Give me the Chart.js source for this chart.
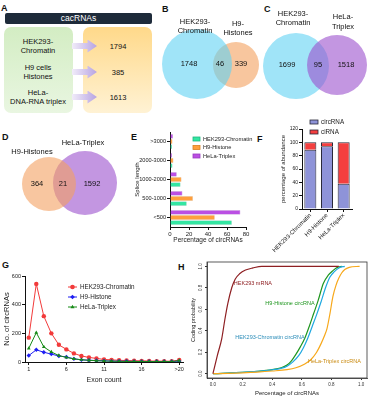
<!DOCTYPE html>
<html>
<head>
<meta charset="utf-8">
<script src="https://cdn.jsdelivr.net/npm/chart.js@4.4.1/dist/chart.umd.min.js"></script>
<style>
  body { margin: 0; background: #fff; }
  #fig { position: relative; width: 373px; height: 400px; overflow: hidden; font-family: "Liberation Sans", Arial, sans-serif; color: #111; }
  #fig canvas { position: absolute; }
  .tag { position: absolute; font-weight: bold; font-size: 9px; line-height: 9px; }
  .box { position: absolute; border-radius: 7px; }
  .txt { position: absolute; font-size: 7.5px; line-height: 9px; text-align: center; white-space: pre; transform: translate(-50%, -50%); }
  .arrow { position: absolute; width: 25px; height: 13px; clip-path: polygon(0 27%, 62% 27%, 62% 0, 100% 50%, 62% 100%, 62% 73%, 0 73%); background: linear-gradient(90deg, #f1ecf9, #b7a3e2); }
</style>
</head>
<body>
<div id="fig"></div>
<script>
// panel A
const cacSources = ['HEK293-\nChromatin', 'H9 cells\nHistones', 'HeLa-\nDNA-RNA triplex'];
const cacCounts = [1794, 385, 1613];

// venn panels: [left only, shared, right only]
const vennHekH9 = [1748, 46, 339];
const vennHekHela = [1699, 95, 1518];
const vennH9Hela = [364, 21, 1592];

// panel E, splice length (% of circRNAs)
const spliceBins = ['>3000', '2000-3000', '1000-2000', '500-1000', '<500'];
const spliceHek = [2, 2.5, 11, 17.5, 65];
const spliceH9 = [2.5, 3.5, 12, 24, 47];
const spliceHela = [3, 2, 7, 13, 74];

// panel F, abundance (%)
const cellLines = ['HEK293-Chromatin', 'H9-Histone', 'HeLa-Triplex'];
const circShare = [89, 94, 38];
const ciShare = [11, 6, 62];

// panel G, exon count
const exonLabels = ['1','2','3','4','5','6','7','8','9','10','11','12','13','14','15','16','17','18','19','20','>20'];
const exonHek = [170, 545, 320, 200, 120, 88, 60, 42, 32, 25, 18, 15, 12, 10, 9, 8, 7, 6, 6, 5, 14];
const exonH9 = [45, 85, 68, 55, 42, 35, 22, 15, 12, 10, 8, 6, 5, 5, 4, 4, 3, 3, 3, 3, 6];
const exonHela = [95, 205, 105, 70, 45, 32, 22, 16, 12, 9, 7, 6, 5, 4, 4, 3, 3, 3, 3, 3, 10];

// panel H, coding probability curves
const mrnaX = [0, 0.03, 0.06, 0.08, 0.1, 0.127, 0.15, 0.18, 0.22, 0.27, 0.33, 0.85];
const mrnaY = [0, 0.17, 0.33, 0.5, 0.65, 0.8, 0.88, 0.93, 0.965, 0.985, 1, 1];
const h9X = [0, 0.1, 0.2, 0.3, 0.4, 0.46, 0.5, 0.53, 0.56, 0.59, 0.62, 0.65, 0.68, 0.71, 0.745, 0.78, 0.81, 0.84, 0.87];
const h9Y = [0, 0.005, 0.012, 0.022, 0.038, 0.055, 0.08, 0.12, 0.18, 0.25, 0.33, 0.44, 0.56, 0.68, 0.84, 0.92, 0.96, 0.99, 1];
const hekX = [0, 0.1, 0.2, 0.3, 0.4, 0.46, 0.5, 0.54, 0.58, 0.61, 0.64, 0.67, 0.7, 0.73, 0.76, 0.79, 0.82, 0.85, 0.89];
const hekY = [0, 0.005, 0.012, 0.022, 0.036, 0.05, 0.07, 0.11, 0.17, 0.24, 0.33, 0.44, 0.55, 0.67, 0.8, 0.9, 0.95, 0.985, 1];
const helaX = [0, 0.1, 0.2, 0.3, 0.4, 0.5, 0.56, 0.62, 0.66, 0.7, 0.73, 0.755, 0.77, 0.79, 0.81, 0.83, 0.85, 0.87, 0.89, 0.92, 0.99];
const helaY = [0, 0.003, 0.008, 0.015, 0.025, 0.038, 0.055, 0.09, 0.13, 0.2, 0.28, 0.36, 0.42, 0.56, 0.72, 0.82, 0.89, 0.94, 0.97, 0.99, 1];

const FONT = '"Liberation Sans", Arial, Helvetica, sans-serif';
Chart.defaults.font.family = FONT;
Chart.defaults.color = '#222';
Chart.defaults.animation = false;
Chart.defaults.responsive = false;
Chart.defaults.events = [];
Chart.defaults.plugins.legend.display = false;
Chart.defaults.plugins.tooltip.enabled = false;

const fig = document.getElementById('fig');

function addCanvas(left, top, w, h) {
    const c = document.createElement('canvas');
    c.width = w; c.height = h;
    c.style.left = left + 'px'; c.style.top = top + 'px';
    c.style.width = w + 'px'; c.style.height = h + 'px';
    fig.appendChild(c);
    return c;
}

function addDiv(cls, css, text) {
    const d = document.createElement('div');
    d.className = cls;
    Object.assign(d.style, css);
    if (text !== undefined) d.textContent = text;
    fig.appendChild(d);
    return d;
}

// text written on a chart, page coords or data coords
const notes = {
    id: 'notes',
    afterDraw(chart, args, opts) {
        const ctx = chart.ctx;
        const ox = chart.canvas.offsetLeft, oy = chart.canvas.offsetTop;
        (opts.items || []).forEach(function (it) {
            let x = it.x - ox, y = it.y - oy;
            if (it.onData) {
                x = chart.scales.x.getPixelForValue(it.x);
                y = chart.scales.y.getPixelForValue(it.y);
            }
            ctx.save();
            ctx.font = (it.size || 6) + 'px ' + FONT;
            ctx.fillStyle = it.color || '#111';
            ctx.textAlign = it.align || 'center';
            ctx.textBaseline = 'middle';
            ctx.translate(x, y);
            if (it.rotate) ctx.rotate(it.rotate * Math.PI / 180);
            ctx.fillText(it.text, 0, 0);
            ctx.restore();
        });
    }
};

// small legends placed by hand
const keys = {
    id: 'keys',
    afterDraw(chart, args, opts) {
        const ctx = chart.ctx;
        const ox = chart.canvas.offsetLeft, oy = chart.canvas.offsetTop;
        (opts.items || []).forEach(function (k) {
            const x = k.x - ox, y = k.y - oy;
            ctx.save();
            if (k.kind === 'line') {
                ctx.strokeStyle = k.color; ctx.lineWidth = 1;
                ctx.beginPath(); ctx.moveTo(x, y); ctx.lineTo(x + k.w, y); ctx.stroke();
                ctx.fillStyle = k.color;
                Chart.helpers.drawPoint(ctx, { pointStyle: k.point, radius: 2.3, rotation: 0, borderWidth: 0 }, x + k.w / 2, y);
            } else {
                ctx.fillStyle = k.color; ctx.strokeStyle = k.edge; ctx.lineWidth = 0.8;
                ctx.fillRect(x, y - k.h / 2, k.w, k.h);
                ctx.strokeRect(x, y - k.h / 2, k.w, k.h);
            }
            ctx.font = (k.size || 6) + 'px ' + FONT;
            ctx.fillStyle = '#222';
            ctx.textAlign = 'left';
            ctx.textBaseline = 'middle';
            ctx.fillText(k.label, x + k.w + 3, y);
            ctx.restore();
        });
    }
};

const frame = {
    id: 'frame',
    afterDraw(chart, args, opts) {
        if (!opts.on) return;
        const a = chart.chartArea, ctx = chart.ctx;
        ctx.save();
        ctx.strokeStyle = '#333'; ctx.lineWidth = 0.8;
        ctx.strokeRect(a.left, a.top, a.right - a.left, a.bottom - a.top);
        ctx.restore();
    }
};

// R style vertical labels on the y axis
const sideTicks = {
    id: 'sideTicks',
    afterDraw(chart, args, opts) {
        if (!opts.on) return;
        const ctx = chart.ctx, sc = chart.scales.y;
        ctx.save();
        ctx.font = opts.size + 'px ' + FONT;
        ctx.fillStyle = '#333';
        ctx.textAlign = 'center';
        ctx.textBaseline = 'bottom';
        sc.ticks.forEach(function (t) {
            ctx.save();
            ctx.translate(sc.right - opts.gap, sc.getPixelForValue(t.value));
            ctx.rotate(-Math.PI / 2);
            ctx.fillText(t.value.toFixed(1), 0, 0);
            ctx.restore();
        });
        ctx.restore();
    }
};

Chart.register(notes, keys, frame, sideTicks);

function fixW(w) {
    return function (axis) { axis.width = w; axis.paddingTop = 0; axis.paddingBottom = 0; };
}
function fixH(h) {
    return function (axis) { axis.height = h; axis.paddingLeft = 0; axis.paddingRight = 0; };
}

// ---------- panel letters
[['A', 1, 4], ['B', 162, 5], ['C', 264, 5], ['D', 2, 133], ['E', 131, 133], ['F', 257, 135], ['G', 2, 261], ['H', 178, 263]]
    .forEach(function (t) { addDiv('tag', { left: t[1] + 'px', top: t[2] + 'px' }, t[0]); });

// ---------- panel A
addDiv('box', { left: '5px', top: '13px', width: '147px', height: '11px', borderRadius: '2px', background: '#1e2b3a',
    color: '#fff', fontSize: '8.5px', lineHeight: '11px', textAlign: 'center' }, 'cacRNAs');
addDiv('box', { left: '4px', top: '27px', width: '69px', height: '86px', background: 'linear-gradient(#d3edc3, #e9f6e1)' });
addDiv('box', { left: '83px', top: '27px', width: '69px', height: '86px', background: 'linear-gradient(#ffd98a, #fff2d4)' });
const rowsY = [46, 72, 97];
cacSources.forEach(function (s, i) {
    addDiv('txt', { left: '38px', top: rowsY[i] + 'px' }, s);
    addDiv('arrow', { left: '72px', top: (rowsY[i] - 6.5) + 'px' });
    addDiv('txt', { left: '118px', top: rowsY[i] + 'px' }, String(cacCounts[i]));
});

// ---------- venn panels
// chart.js paints dataset 0 last, so the see-through circle goes first
function drawVenn(box, circles, counts, countPos, titles) {
    const cv = addCanvas(box.left, box.top, box.w, box.h);
    const items = counts.map(function (n, i) {
        return { text: String(n), x: countPos[i][0], y: countPos[i][1], size: 7.5 };
    });
    titles.forEach(function (t) { items.push({ text: t[0], x: t[1], y: t[2], size: 7.5 }); });
    new Chart(cv, {
        type: 'bubble',
        data: {
            datasets: circles.map(function (c) {
                return { data: [{ x: c.x - box.left, y: c.y - box.top, r: c.r }], backgroundColor: c.color, borderWidth: 0, clip: false };
            })
        },
        options: {
            layout: { padding: 0, autoPadding: false },
            scales: {
                x: { type: 'linear', display: false, min: 0, max: box.w },
                y: { type: 'linear', display: false, min: 0, max: box.h, reverse: true }
            },
            plugins: { notes: { items: items } }
        }
    });
}

drawVenn({ left: 155, top: 2, w: 110, h: 108 },
    [{ x: 197, y: 64, r: 35, color: 'rgba(97,210,243,0.6)' }, { x: 236, y: 65, r: 23, color: '#f8c69e' }],
    vennHekH9, [[189, 64], [220, 64], [241, 64]],
    [['HEK293-', 195, 22], ['Chromatin', 195, 31], ['H9-', 238, 24], ['Histones', 238, 33]]);

drawVenn({ left: 258, top: 2, w: 115, h: 108 },
    [{ x: 337, y: 65, r: 30, color: 'rgba(155,80,205,0.6)' }, { x: 296, y: 66, r: 33, color: '#a0e4f8' }],
    vennHekHela, [[287, 65], [318, 65], [346, 65]],
    [['HEK293-', 293, 14], ['Chromatin', 293, 23], ['HeLa-', 343, 17], ['Triplex', 343, 27]]);

drawVenn({ left: 0, top: 135, w: 140, h: 95 },
    [{ x: 49, y: 184, r: 27, color: 'rgba(243,160,97,0.6)' }, { x: 85, y: 183, r: 32, color: '#c396e1' }],
    vennH9Hela, [[37, 184], [63, 184], [92, 184]],
    [['H9-Histones', 32, 152], ['HeLa-Triplex', 83, 143]]);

// ---------- panel E
new Chart(addCanvas(130, 128, 130, 122), {
    type: 'bar',
    data: {
        labels: spliceBins,
        datasets: [
            { label: 'HeLa-Triplex', data: spliceHela, backgroundColor: '#bb4fe3', borderColor: '#9a3cc0', borderWidth: 0.5 },
            { label: 'H9-Histone', data: spliceH9, backgroundColor: '#ff9f3c', borderColor: '#d97f20', borderWidth: 0.5 },
            { label: 'HEK293-Chromatin', data: spliceHek, backgroundColor: '#33e6a2', borderColor: '#20b880', borderWidth: 0.5 }
        ]
    },
    options: {
        indexAxis: 'y',
        layout: { padding: { top: 4, right: 14 } },
        datasets: { bar: { categoryPercentage: 0.8, barPercentage: 0.85 } },
        scales: {
            x: {
                min: 0, max: 80,
                ticks: { stepSize: 20, font: { size: 6 }, padding: 1, color: '#222' },
                grid: { drawOnChartArea: false, tickLength: 3, color: '#111' },
                border: { color: '#111', width: 1 },
                title: { display: true, text: 'Percentage of circRNAs', font: { size: 6.5 }, padding: { top: 0, bottom: 6 }, color: '#222' },
                afterFit: fixH(23)
            },
            y: {
                ticks: { font: { size: 5.6 }, padding: 1, color: '#222' },
                grid: { drawOnChartArea: false, tickLength: 3, color: '#111', offset: false },
                border: { color: '#111', width: 1 },
                title: { display: true, text: 'Splice length', font: { size: 6 }, padding: { top: 3.5, bottom: 0 }, color: '#222' },
                afterFit: fixW(40)
            }
        },
        plugins: {
            keys: {
                items: [
                    { x: 193, y: 139, w: 7, h: 4, color: '#33e6a2', edge: '#20b880', label: 'HEK293-Chromatin', size: 5.7 },
                    { x: 193, y: 147.5, w: 7, h: 4, color: '#ff9f3c', edge: '#d97f20', label: 'H9-Histone', size: 5.7 },
                    { x: 193, y: 156, w: 7, h: 4, color: '#bb4fe3', edge: '#9a3cc0', label: 'HeLa-Triplex', size: 5.7 }
                ]
            }
        }
    }
});

// ---------- panel F
new Chart(addCanvas(262, 116, 111, 142), {
    type: 'bar',
    data: {
        labels: cellLines,
        datasets: [
            { label: 'circRNA', data: circShare, backgroundColor: '#8e93d8', borderColor: '#2a2a3a', borderWidth: 1 },
            { label: 'ciRNA', data: ciShare, backgroundColor: '#f43f3f', borderColor: '#2a2a3a', borderWidth: 1 }
        ]
    },
    options: {
        layout: { padding: { top: 13, right: 21 } },
        datasets: { bar: { categoryPercentage: 0.72, barPercentage: 1 } },
        scales: {
            x: {
                stacked: true,
                ticks: { font: { size: 6 }, minRotation: 45, maxRotation: 45, padding: 0, color: '#222' },
                grid: { drawOnChartArea: false, tickLength: 3, color: '#111', offset: false },
                border: { color: '#111', width: 1 },
                afterFit: fixH(49)
            },
            y: {
                stacked: true, min: 0, max: 120,
                ticks: { stepSize: 20, font: { size: 5 }, padding: 1, color: '#222' },
                grid: { drawOnChartArea: false, tickLength: 3, color: '#111' },
                border: { color: '#111', width: 1 },
                title: { display: true, text: 'percentage of abundance', font: { size: 6 }, padding: { top: 17.4, bottom: 0 }, color: '#222' },
                afterFit: fixW(40)
            }
        },
        plugins: {
            keys: {
                items: [
                    { x: 310, y: 122, w: 8, h: 4, color: '#8e93d8', edge: '#2a2a3a', label: 'circRNA', size: 6.3 },
                    { x: 310, y: 132, w: 8, h: 4, color: '#f43f3f', edge: '#2a2a3a', label: 'ciRNA', size: 6.3 }
                ]
            }
        }
    }
});

// ---------- panel G
const gShown = ['1', '6', '11', '16', '>20'];
new Chart(addCanvas(0, 268, 190, 132), {
    type: 'line',
    data: {
        labels: exonLabels,
        datasets: [
            { label: 'HeLa-Triplex', data: exonHela, borderColor: '#168a16', backgroundColor: '#168a16', pointStyle: 'triangle' },
            { label: 'H9-Histone', data: exonH9, borderColor: '#1f1ff2', backgroundColor: '#1f1ff2', pointStyle: 'rectRot' },
            { label: 'HEK293-Chromatin', data: exonHek, borderColor: '#f23a3a', backgroundColor: '#f23a3a', pointStyle: 'circle' }
        ]
    },
    options: {
        layout: { padding: { top: 8, right: 7 } },
        datasets: { line: { borderWidth: 1, pointRadius: 2.2, pointBorderWidth: 0, tension: 0 } },
        scales: {
            x: {
                offset: true,
                ticks: {
                    autoSkip: false, maxRotation: 0, font: { size: 5.5 }, padding: 1, color: '#222',
                    callback: function (v) { const l = exonLabels[v]; return gShown.indexOf(l) >= 0 ? l : null; }
                },
                grid: { drawOnChartArea: false, tickLength: 3, color: '#111' },
                border: { color: '#111', width: 1 },
                title: { display: true, text: 'Exon count', font: { size: 7 }, padding: { top: 0, bottom: 16 }, color: '#222' },
                afterFit: fixH(38)
            },
            y: {
                min: 0, max: 600,
                ticks: { stepSize: 200, font: { size: 5.5 }, padding: 1, color: '#222' },
                grid: { drawOnChartArea: false, tickLength: 3, color: '#111' },
                border: { color: '#111', width: 1 },
                title: { display: true, text: 'No. of circRNAs', font: { size: 7.5 }, padding: { top: 2.5, bottom: 0 }, color: '#222' },
                afterFit: fixW(25)
            }
        },
        plugins: {
            keys: {
                items: [
                    { kind: 'line', x: 68, y: 287, w: 9, color: '#f23a3a', point: 'circle', label: 'HEK293-Chromatin', size: 6.3 },
                    { kind: 'line', x: 68, y: 297, w: 9, color: '#1f1ff2', point: 'rectRot', label: 'H9-Histone', size: 6.3 },
                    { kind: 'line', x: 68, y: 307, w: 9, color: '#168a16', point: 'triangle', label: 'HeLa-Triplex', size: 6.3 }
                ]
            }
        }
    }
});

// ---------- panel H
function pts(xs, ys) { return xs.map(function (x, i) { return { x: x, y: ys[i] }; }); }
new Chart(addCanvas(186, 258, 187, 142), {
    type: 'line',
    data: {
        datasets: [
            { label: 'HEK293 mRNA', data: pts(mrnaX, mrnaY), borderColor: '#8e1f22' },
            { label: 'HeLa-Triplex circRNA', data: pts(helaX, helaY), borderColor: '#f7a81b' },
            { label: 'HEK293-Chromatin circRNA', data: pts(hekX, hekY), borderColor: '#1fa8e0' },
            { label: 'H9-Histone circRNA', data: pts(h9X, h9Y), borderColor: '#1f961f' }
        ]
    },
    options: {
        layout: { padding: { top: 4, right: 6 } },
        datasets: { line: { borderWidth: 1.2, pointRadius: 0, cubicInterpolationMode: 'monotone' } },
        scales: {
            x: {
                type: 'linear', min: -0.04, max: 1.04,
                ticks: { stepSize: 0.2, includeBounds: false, font: { size: 4.5 }, padding: 2, color: '#333',
                    callback: function (v) { return v.toFixed(1); } },
                grid: { drawOnChartArea: false, tickLength: 2, color: '#333' },
                border: { color: '#333', width: 0.8 },
                title: { display: true, text: 'Percentage of circRNAs', font: { size: 6 }, padding: { top: 0, bottom: 3 }, color: '#222' },
                afterFit: fixH(22)
            },
            y: {
                type: 'linear', min: -0.04, max: 1.04,
                ticks: { stepSize: 0.2, includeBounds: false, display: false },
                grid: { drawOnChartArea: false, tickLength: 2, color: '#333' },
                border: { color: '#333', width: 0.8 },
                title: { display: true, text: 'Coding probability', font: { size: 5.5 }, padding: { top: 4.5, bottom: 0 }, color: '#222' },
                afterFit: fixW(21)
            }
        },
        plugins: {
            frame: { on: true },
            sideTicks: { on: true, size: 4.5, gap: 4 },
            notes: {
                items: [
                    { text: 'HEK293 mRNA', x: 0.27, y: 0.84, onData: true, size: 5.5, color: '#8e1f22' },
                    { text: 'H9-Histone circRNA', x: 0.52, y: 0.65, onData: true, size: 5.5, color: '#1f961f' },
                    { text: 'HEK293-Chromatin circRNA', x: 0.385, y: 0.34, onData: true, size: 5.5, color: '#2a8cb8' },
                    { text: 'HeLa-Triplex circRNA', x: 0.82, y: 0.11, onData: true, size: 5.5, color: '#c98a10' }
                ]
            }
        }
    }
});
</script>
</body>
</html>
